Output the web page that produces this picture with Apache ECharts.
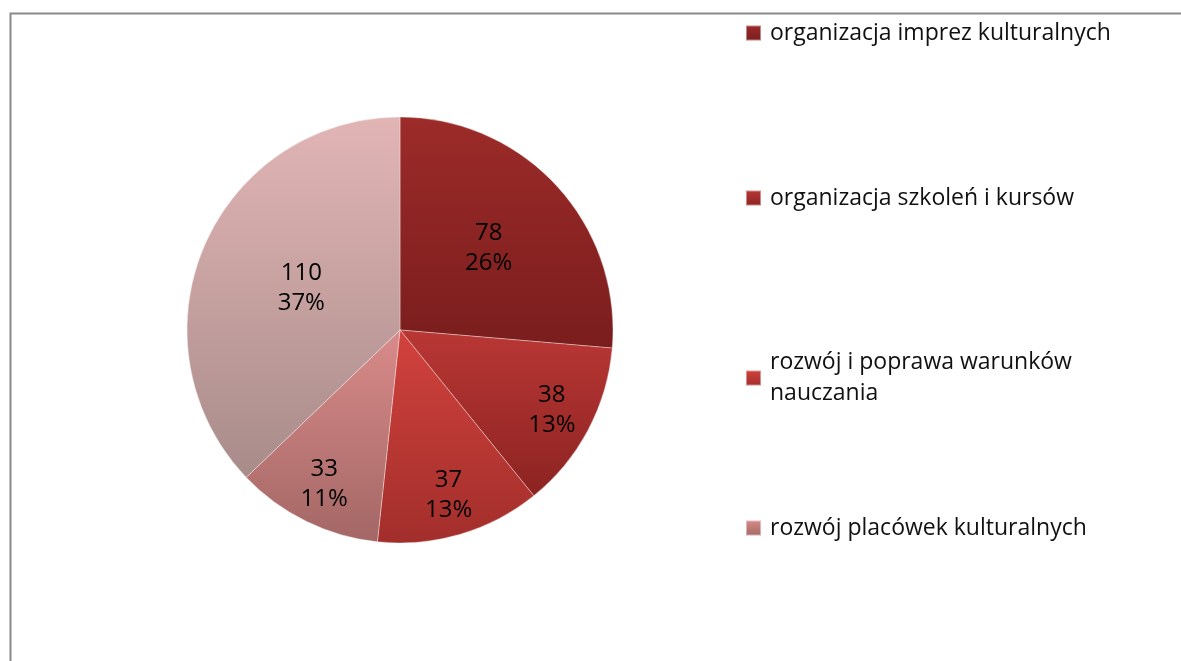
<!DOCTYPE html>
<html>
<head>
<meta charset="utf-8">
<script src="https://cdn.jsdelivr.net/npm/echarts@6/dist/echarts.min.js"></script>
<style>
  html, body { margin: 0; padding: 0; background: #fff; }
  #main { width: 1181px; height: 661px; }
</style>
</head>
<body>
<div id="main"></div>
<script>
// kategorie i wartości
var categories = [
  'organizacja imprez kulturalnych',
  'organizacja szkoleń i kursów',
  'rozwój i poprawa warunków nauczania',
  'rozwój placówek kulturalnych',
  'inne'
];
var values = [78, 38, 37, 33, 110];
// kolory wycinków: [góra, dół] gradientu
var topColors = ['#9c2b29', '#b93735', '#d2423d', '#d98b8a', '#e2b5b5'];
var bottomColors = ['#7a1d1d', '#8c2321', '#a22e2b', '#a36765', '#a88c8a'];

var total = values.reduce(function (a, b) { return a + b; }, 0);
var cx = 400, cy = 330;
var FONT = '"Open Sans", "Noto Sans", sans-serif';

function grad(i) {
  return new echarts.graphic.LinearGradient(0, 0, 0, 1, [
    { offset: 0, color: topColors[i] },
    { offset: 1, color: bottomColors[i] }
  ]);
}

var chart = echarts.init(document.getElementById('main'));

// osobna legenda dla każdej pozycji (tylko 4 widoczne)
var legendTops = [18, 183, 331, 513];
var legends = legendTops.map(function (t, i) {
  var multi = i === 2;
  return {
    data: [categories[i]],
    orient: 'vertical',
    left: 745,
    top: t,
    padding: 0,
    itemWidth: 15,
    itemHeight: 15,
    icon: 'rect',
    selectedMode: false,
    formatter: function (name) {
      return multi ? 'rozwój i poprawa warunków\nnauczania' : name;
    },
    textStyle: {
      fontFamily: FONT,
      fontSize: 23,
      color: '#111',
      lineHeight: multi ? 31 : 30,
      padding: multi ? [32, 0, 0, 4] : [0, 0, 0, 4]
    }
  };
});

chart.setOption({
  backgroundColor: '#fff',
  animation: false,
  legend: legends,
  graphic: [{
    type: 'rect',
    shape: { x: 10.5, y: 13.5, width: 1300, height: 800 },
    style: { fill: 'none', stroke: '#8a8a8a', lineWidth: 2 },
    silent: true
  }],
  series: [{
    type: 'pie',
    center: [cx, cy],
    radius: 213,
    startAngle: 90,
    clockwise: true,
    avoidLabelOverlap: false,
    itemStyle: { borderColor: 'rgba(255,255,255,0.45)', borderWidth: 0.8 },
    label: {
      show: true,
      position: 'inside',
      fontFamily: FONT,
      fontSize: 24,
      lineHeight: 30,
      color: '#000',
      formatter: function (p) {
        return p.value + '\n' + Math.round(p.value / total * 100) + '%';
      }
    },
    labelLine: { show: false },
    labelLayout: function (p) {
      var share = values[p.dataIndex] / total;
      var k = share < 0.2 ? 1.57 : (p.dataIndex === 0 ? 1.1 : 0.98);
      var lx = p.labelRect.x + p.labelRect.width / 2;
      var ly = p.labelRect.y + p.labelRect.height / 2;
      return { dx: (lx - cx) * (k - 1), dy: (ly - cy) * (k - 1) };
    },
    emphasis: { disabled: true },
    data: categories.map(function (c, i) {
      return { name: c, value: values[i], itemStyle: { color: grad(i) } };
    })
  }]
});
</script>
</body>
</html>
